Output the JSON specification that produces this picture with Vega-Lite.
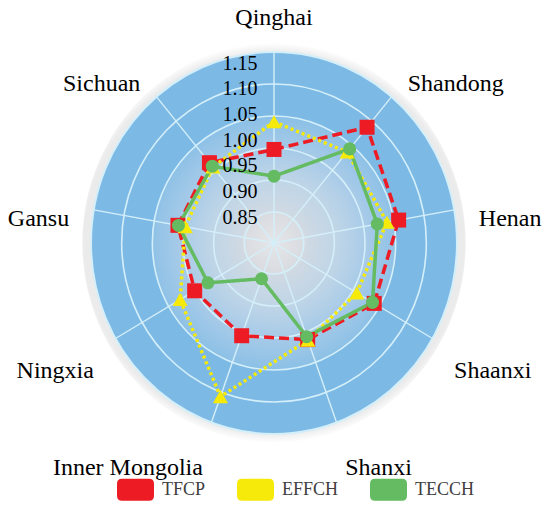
{
  "$schema": "https://vega.github.io/schema/vega-lite/v6.json",
  "width": 366,
  "height": 382,
  "autosize": {"type": "none"},
  "padding": {"left": 91, "top": 52, "right": 93, "bottom": 74},
  "background": "white",
  "config": {"view": {"stroke": null}, "font": "Liberation Serif", "legend": {"labelFont": "Liberation Serif", "labelFontSize": 18, "labelColor": "#404040"}},
  "datasets": {
    "scores": [
      {"region": "Qinghai", "series": "TFCP", "value": 0.982},
      {"region": "Shandong", "series": "TFCP", "value": 1.094},
      {"region": "Henan", "series": "TFCP", "value": 1.057},
      {"region": "Shaanxi", "series": "TFCP", "value": 1.035},
      {"region": "Shanxi", "series": "TFCP", "value": 1.000},
      {"region": "Inner Mongolia", "series": "TFCP", "value": 0.992},
      {"region": "Ningxia", "series": "TFCP", "value": 0.986},
      {"region": "Gansu", "series": "TFCP", "value": 0.998},
      {"region": "Sichuan", "series": "TFCP", "value": 1.004},
      {"region": "Qinghai", "series": "EFFCH", "value": 1.036},
      {"region": "Shandong", "series": "EFFCH", "value": 1.031},
      {"region": "Henan", "series": "EFFCH", "value": 1.033},
      {"region": "Shaanxi", "series": "EFFCH", "value": 0.994},
      {"region": "Shanxi", "series": "EFFCH", "value": 1.001},
      {"region": "Inner Mongolia", "series": "EFFCH", "value": 1.118},
      {"region": "Ningxia", "series": "EFFCH", "value": 1.020},
      {"region": "Gansu", "series": "EFFCH", "value": 0.983},
      {"region": "Sichuan", "series": "EFFCH", "value": 0.993},
      {"region": "Qinghai", "series": "TECCH", "value": 0.930},
      {"region": "Shandong", "series": "TECCH", "value": 1.039},
      {"region": "Henan", "series": "TECCH", "value": 1.013},
      {"region": "Shaanxi", "series": "TECCH", "value": 1.031},
      {"region": "Shanxi", "series": "TECCH", "value": 0.994},
      {"region": "Inner Mongolia", "series": "TECCH", "value": 0.874},
      {"region": "Ningxia", "series": "TECCH", "value": 0.955},
      {"region": "Gansu", "series": "TECCH", "value": 0.997},
      {"region": "Sichuan", "series": "TECCH", "value": 0.995}
    ],
    "regions": [
      {"region": "Qinghai"}, {"region": "Shandong"}, {"region": "Henan"},
      {"region": "Shaanxi"}, {"region": "Shanxi"}, {"region": "Inner Mongolia"},
      {"region": "Ningxia"}, {"region": "Gansu"}, {"region": "Sichuan"}
    ],
    "rings": [{"ring": "shadow"}, {"ring": "outer"}, {"ring": "r5"}, {"ring": "r4"}, {"ring": "r3"}, {"ring": "r2"}, {"ring": "r1"}]
  },
  "encoding": {
    "x": {"field": "X", "type": "quantitative", "scale": {"domain": [-0.3716, 0.3716], "nice": false, "zero": false}, "axis": null},
    "y": {"field": "Y", "type": "quantitative", "scale": {"domain": [-0.3716, 0.3716], "nice": false, "zero": false},
      "axis": {"values": [0.05, 0.1, 0.15, 0.2, 0.25, 0.3, 0.35], "labelExpr": "format(datum.value + 0.8, '.2f')", "orient": "left", "offset": -166, "domain": false, "ticks": false, "tickSize": 0, "grid": false, "labelPadding": 0, "labelFont": "Liberation Serif", "labelFontSize": 20, "labelColor": "#000000", "title": null, "zindex": 1, "labelOverlap": false, "labelFlush": false, "labelBaseline": "middle"}}
  },
  "layer": [
    {
      "data": {"name": "rings"},
      "transform": [{"calculate": "0", "as": "X"}, {"calculate": "0", "as": "Y"}],
      "layer": [
        {
          "transform": [{"filter": "datum.ring === 'shadow'"}],
          "mark": {"type": "point", "shape": "M0.958,0C0.958,0.5523 0.5291,1 0,1C-0.5291,1 -0.958,0.5523 -0.958,0C-0.958,-0.5523 -0.5291,-1 0,-1C0.5291,-1 0.958,-0.5523 0.958,0Z", "size": 160000, "filled": true, "opacity": 1, "strokeWidth": 0,
            "fill": {"gradient": "radial", "x1": 0.5, "y1": 0.5, "x2": 0.5, "y2": 0.5, "r1": 0, "r2": 0.5, "stops": [{"offset": 0, "color": "rgba(120,120,120,0.18)"}, {"offset": 0.95, "color": "rgba(120,120,120,0.15)"}, {"offset": 1, "color": "rgba(120,120,120,0)"}]}}
        },
        {
          "transform": [{"filter": "datum.ring === 'outer'"}],
          "mark": {"type": "point", "shape": "M0.958,0C0.958,0.5523 0.5291,1 0,1C-0.5291,1 -0.958,0.5523 -0.958,0C-0.958,-0.5523 -0.5291,-1 0,-1C0.5291,-1 0.958,-0.5523 0.958,0Z", "size": 145924, "filled": true, "opacity": 1, "fill": "#7cb9e5", "stroke": "#d4eff9", "strokeWidth": 2}
        },
        {
          "transform": [{"filter": "datum.ring === 'r5'"}],
          "mark": {"type": "point", "shape": "M0.958,0C0.958,0.5523 0.5291,1 0,1C-0.5291,1 -0.958,0.5523 -0.958,0C-0.958,-0.5523 -0.5291,-1 0,-1C0.5291,-1 0.958,-0.5523 0.958,0Z", "size": 101124, "filled": false, "opacity": 1, "stroke": "#d4eff9", "strokeWidth": 1.6}
        },
        {
          "transform": [{"filter": "datum.ring === 'r4'"}],
          "mark": {"type": "point", "shape": "M0.958,0C0.958,0.5523 0.5291,1 0,1C-0.5291,1 -0.958,0.5523 -0.958,0C-0.958,-0.5523 -0.5291,-1 0,-1C0.5291,-1 0.958,-0.5523 0.958,0Z", "size": 64516, "filled": true, "opacity": 1, "stroke": "#d4eff9", "strokeWidth": 1.6,
            "fill": {"gradient": "radial", "x1": 0.5, "y1": 0.5, "x2": 0.5, "y2": 0.5, "r1": 0, "r2": 0.5, "stops": [{"offset": 0, "color": "#e6e6e9"}, {"offset": 0.24, "color": "#d8dbe0"}, {"offset": 0.26, "color": "#cfd9e3"}, {"offset": 0.5, "color": "#bfd5e7"}, {"offset": 0.75, "color": "#a6cae8"}, {"offset": 1, "color": "#8bc0e6"}]}}
        },
        {
          "transform": [{"filter": "datum.ring === 'r3'"}],
          "mark": {"type": "point", "shape": "M0.958,0C0.958,0.5523 0.5291,1 0,1C-0.5291,1 -0.958,0.5523 -0.958,0C-0.958,-0.5523 -0.5291,-1 0,-1C0.5291,-1 0.958,-0.5523 0.958,0Z", "size": 36100, "filled": false, "opacity": 1, "stroke": "#d4eff9", "strokeWidth": 1.6}
        },
        {
          "transform": [{"filter": "datum.ring === 'r2'"}],
          "mark": {"type": "point", "shape": "M0.958,0C0.958,0.5523 0.5291,1 0,1C-0.5291,1 -0.958,0.5523 -0.958,0C-0.958,-0.5523 -0.5291,-1 0,-1C0.5291,-1 0.958,-0.5523 0.958,0Z", "size": 15876, "filled": false, "opacity": 1, "stroke": "#d4eff9", "strokeWidth": 1.6}
        },
        {
          "transform": [{"filter": "datum.ring === 'r1'"}],
          "mark": {"type": "point", "shape": "M0.958,0C0.958,0.5523 0.5291,1 0,1C-0.5291,1 -0.958,0.5523 -0.958,0C-0.958,-0.5523 -0.5291,-1 0,-1C0.5291,-1 0.958,-0.5523 0.958,0Z", "size": 3844, "filled": false, "opacity": 1, "stroke": "#d4eff9", "strokeWidth": 1.6}
        }
      ]
    },
    {
      "data": {"name": "regions"},
      "transform": [
        {"calculate": "indexof(['Qinghai','Shandong','Henan','Shaanxi','Shanxi','Inner Mongolia','Ningxia','Gansu','Sichuan'], datum.region)", "as": "i"},
        {"calculate": "datum.i * 2 * PI / 9", "as": "ang"},
        {"calculate": "0", "as": "X"},
        {"calculate": "0", "as": "Y"},
        {"calculate": "0.3716 * sin(datum.ang)", "as": "sx"},
        {"calculate": "0.3716 * cos(datum.ang)", "as": "sy"}
      ],
      "mark": {"type": "rule", "color": "#d4eff9", "strokeWidth": 1.4},
      "encoding": {
        "x2": {"field": "sx"},
        "y2": {"field": "sy"}
      }
    },
    {
      "data": {"name": "scores"},
      "transform": [
        {"calculate": "indexof(['Qinghai','Shandong','Henan','Shaanxi','Shanxi','Inner Mongolia','Ningxia','Gansu','Sichuan'], datum.region)", "as": "i"},
        {"calculate": "datum.i * 2 * PI / 9", "as": "ang"},
        {"calculate": "(datum.value - 0.8) * sin(datum.ang)", "as": "X"},
        {"calculate": "(datum.value - 0.8) * cos(datum.ang)", "as": "Y"}
      ],
      "resolve": {"legend": {"color": "independent"}},
      "layer": [
        {
          "mark": {"type": "line", "interpolate": "linear-closed", "strokeWidth": 3.5},
          "encoding": {
            "color": {"field": "series", "type": "nominal", "scale": {"domain": ["TFCP", "EFFCH", "TECCH"], "range": ["#ed1c24", "#f5ea0a", "#64bb62"]}, "legend": null},
            "strokeDash": {"field": "series", "type": "nominal", "scale": {"domain": ["TFCP", "EFFCH", "TECCH"], "range": [[10, 5], [3, 3], [1, 0]]}, "legend": null},
            "order": {"field": "i", "type": "quantitative"}
          }
        },
        {
          "mark": {"type": "point", "filled": true, "opacity": 1},
          "encoding": {
            "color": {"field": "series", "type": "nominal", "scale": {"domain": ["TFCP", "EFFCH", "TECCH"], "range": ["#ed1c24", "#f5ea0a", "#64bb62"]},
              "legend": {"title": null, "orient": "none", "legendX": 26, "legendY": 419, "direction": "horizontal", "symbolType": "M-0.73,-0.595H0.73Q1,-0.595 1,-0.325V0.325Q1,0.595 0.73,0.595H-0.73Q-1,0.595 -1,0.325V-0.325Q-1,-0.595 -0.73,-0.595Z", "symbolSize": 1369, "symbolStrokeWidth": 0, "symbolOpacity": 1, "labelFont": "Liberation Serif", "labelFontSize": 18, "labelColor": "#404040", "labelOffset": 8, "columnPadding": 31, "padding": 0, "labelLimit": 200}},
            "shape": {"field": "series", "type": "nominal", "scale": {"domain": ["TFCP", "EFFCH", "TECCH"], "range": ["square", "triangle-up", "circle"]}, "legend": null},
            "size": {"field": "series", "type": "nominal", "scale": {"type": "ordinal", "domain": ["TFCP", "EFFCH", "TECCH"], "range": [225, 230, 170]}, "legend": null}
          }
        }
      ]
    },
    {
      "data": {"name": "regions"},
      "transform": [
        {"calculate": "indexof(['Qinghai','Shandong','Henan','Shaanxi','Shanxi','Inner Mongolia','Ningxia','Gansu','Sichuan'], datum.region)", "as": "i"},
        {"calculate": "datum.i * 2 * PI / 9", "as": "ang"},
        {"calculate": "0.4223 * sin(datum.ang)", "as": "X"},
        {"calculate": "0.4047 * cos(datum.ang) - [-17, 0, 12, 24, 30][min(datum.i, 9 - datum.i)] / 514", "as": "Y"}
      ],
      "layer": [
        {
          "transform": [{"filter": "datum.i == 0"}],
          "mark": {"type": "text", "align": "center", "baseline": "middle", "font": "Liberation Serif", "fontSize": 24, "color": "#000000"},
          "encoding": {"text": {"field": "region"}}
        },
        {
          "transform": [{"filter": "datum.i >= 1 && datum.i <= 4"}],
          "mark": {"type": "text", "align": "left", "baseline": "middle", "font": "Liberation Serif", "fontSize": 24, "color": "#000000"},
          "encoding": {"text": {"field": "region"}}
        },
        {
          "transform": [{"filter": "datum.i >= 5"}],
          "mark": {"type": "text", "align": "right", "baseline": "middle", "font": "Liberation Serif", "fontSize": 24, "color": "#000000"},
          "encoding": {"text": {"field": "region"}}
        }
      ]
    }
  ]
}
